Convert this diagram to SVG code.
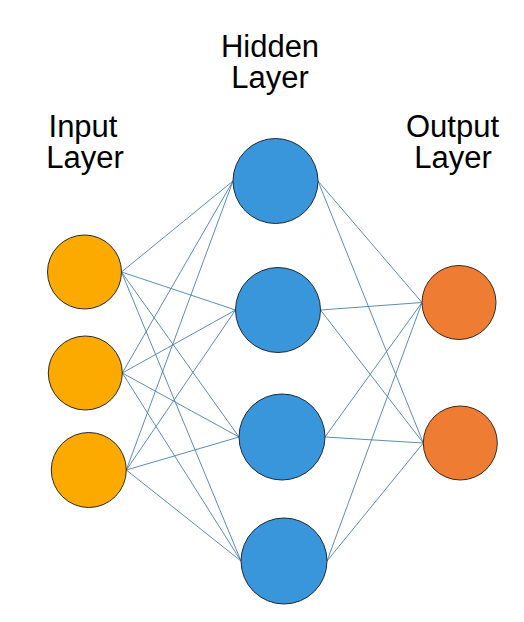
<svg xmlns="http://www.w3.org/2000/svg" width="524" height="622" viewBox="0 0 524 622">
<style>
.lbl{font-family:"Liberation Sans",Arial,sans-serif;font-size:31px;fill:#000;text-anchor:middle}
.in{fill:#FDAA00;stroke:#2a2a2a;stroke-width:1}
.hid{fill:#3A96DB;stroke:#1e2a36;stroke-width:1}
.out{fill:#EE7D33;stroke:#3a2a20;stroke-width:1}
.edge{stroke:#4A80AE;stroke-width:0.9;fill:none}
</style>
<rect width="524" height="622" fill="#fff"/>
<g id="labels">
<text class="lbl" x="270" y="57">Hidden</text>
<text class="lbl" x="270" y="88">Layer</text>
<text class="lbl" x="83" y="137">Input</text>
<text class="lbl" x="85" y="168">Layer</text>
<text class="lbl" x="452.5" y="137">Output</text>
<text class="lbl" x="453" y="168">Layer</text>
</g>
<g id="connectors" class="edge">
<line x1="121.5" y1="272" x2="233" y2="181"/>
<line x1="121.5" y1="272" x2="235.5" y2="310"/>
<line x1="121.5" y1="272" x2="239" y2="437"/>
<line x1="121.5" y1="272" x2="241" y2="561"/>
<line x1="122.3" y1="373" x2="233" y2="181"/>
<line x1="122.3" y1="373" x2="235.5" y2="310"/>
<line x1="122.3" y1="373" x2="239" y2="437"/>
<line x1="122.3" y1="373" x2="241" y2="561"/>
<line x1="126.3" y1="470" x2="233" y2="181"/>
<line x1="126.3" y1="470" x2="235.5" y2="310"/>
<line x1="126.3" y1="470" x2="239" y2="437"/>
<line x1="126.3" y1="470" x2="241" y2="561"/>
<line x1="318" y1="181" x2="422" y2="302.5"/>
<line x1="318" y1="181" x2="423.3" y2="443"/>
<line x1="320.5" y1="310" x2="422" y2="302.5"/>
<line x1="320.5" y1="310" x2="423.3" y2="443"/>
<line x1="325" y1="437" x2="422" y2="302.5"/>
<line x1="325" y1="437" x2="423.3" y2="443"/>
<line x1="327" y1="561" x2="422" y2="302.5"/>
<line x1="327" y1="561" x2="423.3" y2="443"/>
</g>
<g id="input1"><circle class="in" cx="84.5" cy="272" r="37"/></g>
<g id="input2"><circle class="in" cx="85.3" cy="373" r="37"/></g>
<g id="input3"><circle class="in" cx="88.8" cy="470" r="37.5"/></g>
<g id="hidden1"><circle class="hid" cx="275.5" cy="181" r="42.5"/></g>
<g id="hidden2"><circle class="hid" cx="278" cy="310" r="42.5"/></g>
<g id="hidden3"><circle class="hid" cx="282" cy="437" r="43"/></g>
<g id="hidden4"><circle class="hid" cx="284" cy="561" r="43"/></g>
<g id="output1"><circle class="out" cx="459" cy="302.5" r="37"/></g>
<g id="output2"><circle class="out" cx="460.3" cy="443" r="37"/></g>
</svg>
